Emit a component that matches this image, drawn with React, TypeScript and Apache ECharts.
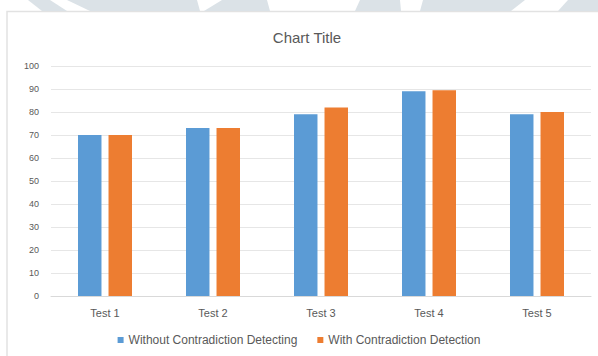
import React, { useEffect, useRef } from "react";
import * as echarts from "echarts";

const categories = ["Test 1", "Test 2", "Test 3", "Test 4", "Test 5"];
const withoutDetecting = [70, 73, 79, 89, 79];
const withDetection = [70, 73, 82, 89.5, 80];
const seriesNames = ["Without Contradiction Detecting", "With Contradiction Detection"];
const yTicks = { min: 0, max: 100, interval: 10 };

const FONT = "'Liberation Sans', Arial, sans-serif";
const TEXT = "#595959";
const WM = "#dbe2e7";

export default function App() {
  const ref = useRef<HTMLDivElement>(null);
  useEffect(() => {
    document.body.style.margin = "0";
    const chart = echarts.init(ref.current!, null, { renderer: "svg" });
    chart.setOption({
      animation: false,
      backgroundColor: "#ffffff",
      textStyle: { fontFamily: FONT },
      graphic: [
        { type: "polygon", silent: true, shape: { points: [[28, 0], [50, 0], [67, 11], [42, 11]] }, style: { fill: WM } },
        { type: "polygon", silent: true, shape: { points: [[67, 0], [197, 0], [200, 11], [90, 11]] }, style: { fill: WM } },
        { type: "polygon", silent: true, shape: { points: [[222, 0], [267, 0], [270, 11], [204, 11]] }, style: { fill: WM } },
        { type: "polygon", silent: true, shape: { points: [[360, 0], [400, 0], [401, 11], [355, 11]] }, style: { fill: WM } },
        { type: "polygon", silent: true, shape: { points: [[423, 0], [525, 0], [511, 11], [420, 11]] }, style: { fill: WM } },
        { type: "polygon", silent: true, shape: { points: [[568, 0], [598, 0], [598, 11], [558, 11]] }, style: { fill: WM } },
        { type: "rect", silent: true, z: -1, shape: { x: 7, y: 11.5, width: 620, height: 380 }, style: { fill: "#ffffff", stroke: "#e2e2e2", lineWidth: 1.5 } },
      ],
      title: {
        text: "Chart Title",
        left: 302,
        textAlign: "center",
        top: 25,
        textStyle: { fontFamily: FONT, fontSize: 15, fontWeight: "normal", color: TEXT },
      },
      legend: {
        data: seriesNames,
        bottom: 5,
        left: "center",
        icon: "rect",
        itemWidth: 6,
        itemHeight: 6,
        itemGap: 20,
        textStyle: { fontFamily: FONT, fontSize: 12, color: TEXT },
      },
      grid: { left: 51, right: 7, top: 66, bottom: 60, containLabel: false },
      xAxis: {
        type: "category",
        data: categories,
        axisLine: { lineStyle: { color: "#d9d9d9" } },
        axisTick: { show: false },
        axisLabel: { color: TEXT, fontSize: 11, fontFamily: FONT, margin: 11 },
      },
      yAxis: {
        type: "value",
        min: yTicks.min,
        max: yTicks.max,
        interval: yTicks.interval,
        axisLine: { show: false },
        axisTick: { show: false },
        splitLine: { lineStyle: { color: "#e6e6e6" } },
        axisLabel: { color: TEXT, fontSize: 9, fontFamily: FONT, margin: 12 },
      },
      series: [
        {
          name: seriesNames[0],
          type: "bar",
          data: withoutDetecting,
          itemStyle: { color: "#5b9bd5" },
          barGap: "30%",
          barCategoryGap: "50%",
        },
        {
          name: seriesNames[1],
          type: "bar",
          data: withDetection,
          itemStyle: { color: "#ed7d31" },
        },
      ],
    });
    return () => chart.dispose();
  }, []);
  return <div ref={ref} style={{ width: 598, height: 356 }} />;
}
